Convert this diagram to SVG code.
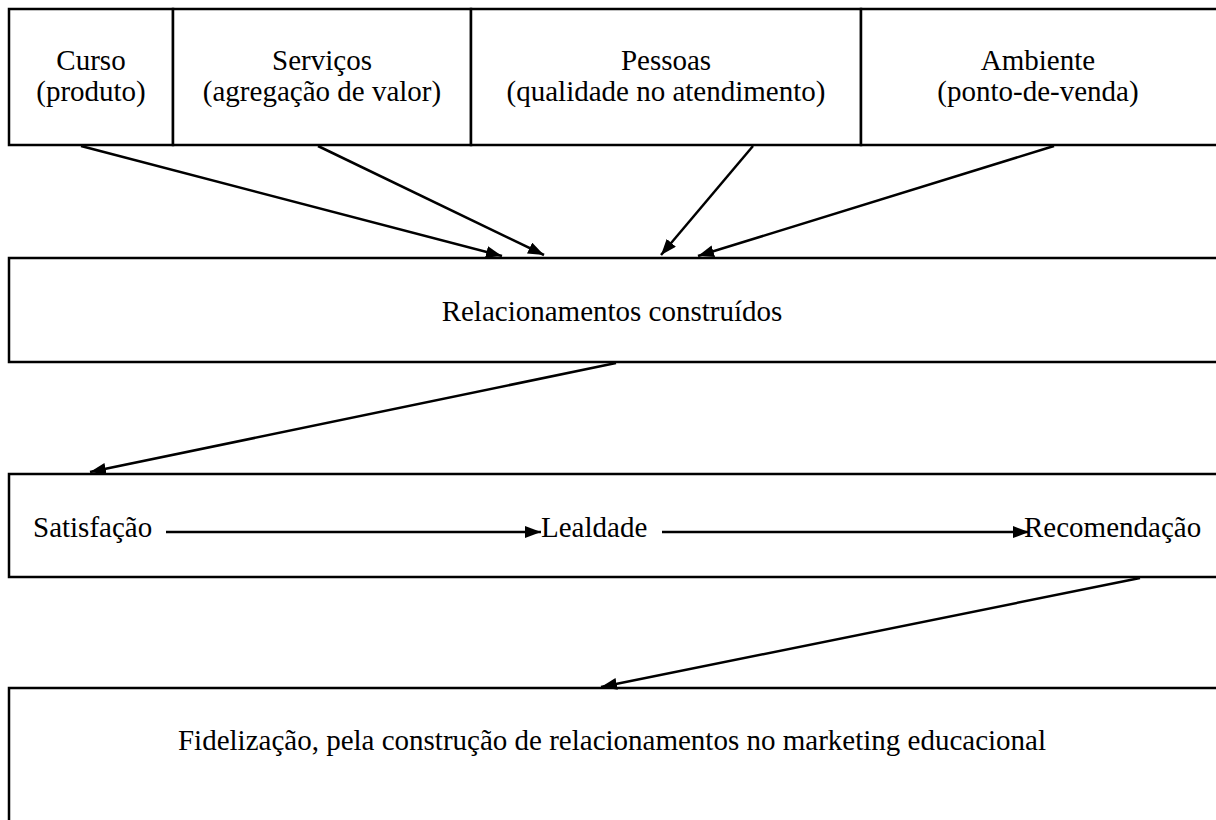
<svg xmlns="http://www.w3.org/2000/svg" width="1216" height="820" viewBox="0 0 1216 820">
  <style>
    .box { fill: #ffffff; stroke: #000000; stroke-width: 2.5; }
    .lbl { font-family: "Liberation Serif", "Times New Roman", serif; font-size: 29px; fill: #000000; }
    .mid { text-anchor: middle; }
    .conn { stroke: #000000; stroke-width: 2.5; fill: none; marker-end: url(#arrow); }
  </style>
  <defs>
    <marker id="arrow" markerUnits="userSpaceOnUse" markerWidth="17" markerHeight="13" refX="16" refY="6" orient="auto">
      <path d="M0,0 L16,6 L0,12 z" fill="#000000"/>
    </marker>
  </defs>
  <rect x="0" y="0" width="1216" height="820" fill="#ffffff"/>

  <g id="node-curso">
    <rect class="box" x="9" y="9" width="164" height="136"/>
    <text class="lbl mid" x="91" y="70">Curso</text>
    <text class="lbl mid" x="91" y="101">(produto)</text>
  </g>
  <g id="node-servicos">
    <rect class="box" x="173" y="9" width="298" height="136"/>
    <text class="lbl mid" x="322" y="70">Serviços</text>
    <text class="lbl mid" x="322" y="101">(agregação de valor)</text>
  </g>
  <g id="node-pessoas">
    <rect class="box" x="471" y="9" width="390" height="136"/>
    <text class="lbl mid" x="666" y="70">Pessoas</text>
    <text class="lbl mid" x="666" y="101">(qualidade no atendimento)</text>
  </g>
  <g id="node-ambiente">
    <rect class="box" x="861" y="9" width="360" height="136"/>
    <text class="lbl mid" x="1038" y="70">Ambiente</text>
    <text class="lbl mid" x="1038" y="101">(ponto-de-venda)</text>
  </g>

  <g id="node-relacionamentos">
    <rect class="box" x="9" y="258" width="1212" height="104"/>
    <text class="lbl mid" x="612" y="321">Relacionamentos construídos</text>
  </g>

  <g id="node-satisfacao">
    <rect class="box" x="9" y="474" width="1212" height="103"/>
    <text class="lbl" x="33" y="537">Satisfação</text>
    <text class="lbl" x="541" y="537">Lealdade</text>
    <text class="lbl" x="1024" y="537">Recomendação</text>
  </g>

  <g id="node-fidelizacao">
    <rect class="box" x="9" y="688" width="1212" height="140"/>
    <text class="lbl mid" x="612" y="750">Fidelização, pela construção de relacionamentos no marketing educacional</text>
  </g>

  <g id="connectors">
    <line class="conn" x1="81" y1="146" x2="502" y2="256"/>
    <line class="conn" x1="318" y1="146" x2="544" y2="255"/>
    <line class="conn" x1="753" y1="146" x2="661" y2="255"/>
    <line class="conn" x1="1054" y1="146" x2="698" y2="256"/>
    <line class="conn" x1="616" y1="363" x2="90" y2="472"/>
    <line class="conn" x1="166" y1="532" x2="541" y2="532"/>
    <line class="conn" x1="662" y1="532" x2="1029" y2="532"/>
    <line class="conn" x1="1140" y1="578" x2="601" y2="687"/>
  </g>
</svg>
